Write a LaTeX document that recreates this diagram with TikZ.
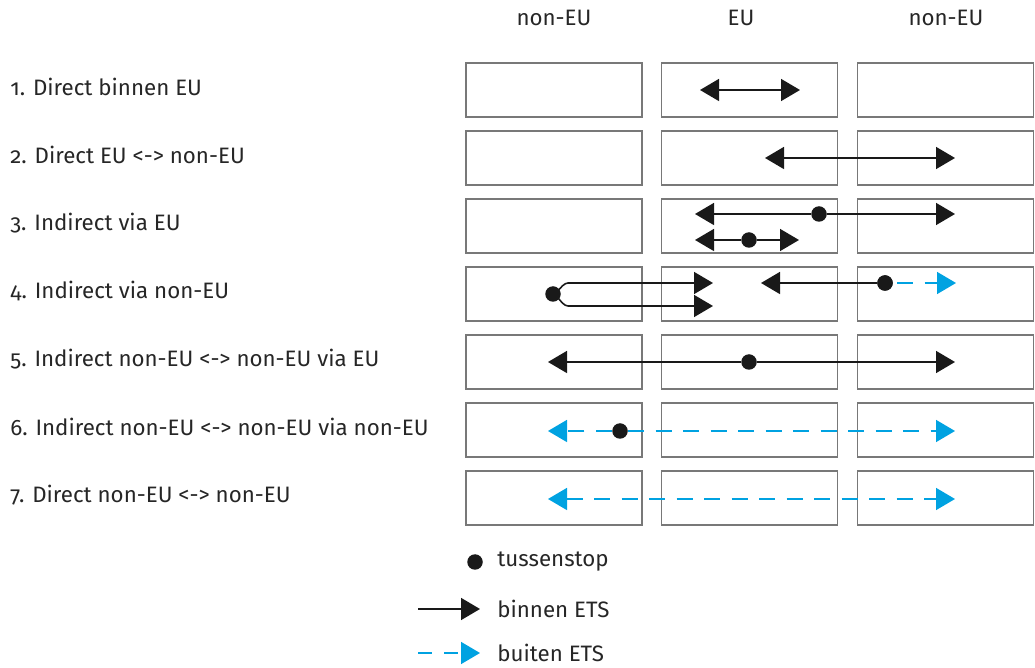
\documentclass[tikz,border=0pt]{standalone}
\usepackage{fontspec}
\setmainfont{Fira Sans}[Numbers=OldStyle]
\usepackage{tikz}
\usetikzlibrary{positioning}
\usetikzlibrary{arrows.meta}
\definecolor{etsblue}{RGB}{0,162,225}
\definecolor{cellgray}{RGB}{120,120,120}

\begin{document}
\begin{tikzpicture}[x=0.02cm,y=-0.02cm,>={Triangle[length=0.38cm,width=0.44cm]},font=\fontsize{12.7}{15}\selectfont,
	cell/.style={draw=cellgray,line width=0.75pt,minimum width=3.52cm,minimum height=1.08cm,inner sep=0pt},
	stop/.style={circle,fill=black!90,inner sep=0pt,minimum size=0.31cm},
	binnen/.style={line width=0.9pt,black!90},
	buiten/.style={line width=0.9pt,etsblue,dash pattern=on 0.32cm off 0.23cm},
	rowlabel/.style={anchor=west,inner sep=0pt,text=black!85}]

	\useasboundingbox (0,0) rectangle (1035,668);

	% kolommen
	\node[text=black!85] (h1) at (554,18) {non-EU};
	\node[text=black!85] (h2) at (741,18) {EU};
	\node[text=black!85] (h3) at (946,18) {non-EU};

	% vakken en rijen
	\foreach \r in {1,...,7}{
		\node[cell] (b\r1) at (554,22+68*\r) {};
		\node[cell] (b\r2) at (749.5,22+68*\r) {};
		\node[cell] (b\r3) at (945.5,22+68*\r) {};
	}
	\foreach \r/\txt in {1/Direct binnen EU,2/Direct EU <-> non-EU,3/Indirect via EU,4/Indirect via non-EU,5/Indirect non-EU <-> non-EU via EU,6/Indirect non-EU <-> non-EU via non-EU,7/Direct non-EU <-> non-EU}
		\node[rowlabel] (l\r) at (10,19+68*\r) {\r. \txt};

	% 1.
	\coordinate (t1l) at (700,90);
	\coordinate (t1r) at (800,90);
	\draw[binnen,<->] (t1l) -- (t1r);

	% 2.
	\coordinate (t2l) at (765,158);
	\coordinate (t2r) at (955,158);
	\draw[binnen,<->] (t2l) -- (t2r);

	% 3.
	\coordinate (t3l) at (695,214);
	\coordinate (t3r) at (955,214);
	\node[stop] (s3a) at (819,214) {};
	\draw[binnen,->] (s3a) -- (t3l);
	\draw[binnen,->] (s3a) -- (t3r);
	\coordinate (t3bl) at (695,240);
	\coordinate (t3br) at (799,240);
	\node[stop] (s3b) at (749,240) {};
	\draw[binnen,->] (s3b) -- (t3bl);
	\draw[binnen,->] (s3b) -- (t3br);

	% 4.
	\node[stop] (s4a) at (553,294) {};
	\coordinate (k4u) at (568,283);
	\coordinate (k4d) at (568,306);
	\coordinate (t4u) at (713,283);
	\coordinate (t4d) at (713,306);
	\draw[binnen,->] (s4a.center) to[out=-90,in=180] (k4u) -- (t4u);
	\draw[binnen,->] (s4a.center) to[out=90,in=180] (k4d) -- (t4d);
	\node[stop] (s4b) at (885,283) {};
	\coordinate (t4l) at (761,283);
	\coordinate (t4r) at (956,283);
	\draw[binnen,->] (s4b) -- (t4l);
	\draw[buiten,->,dash phase=-0.08cm] (s4b) -- (t4r);
	\node[stop] at (s4b) {};

	% 5.
	\node[stop] (s5) at (749,362) {};
	\coordinate (t5l) at (548,362);
	\coordinate (t5r) at (955,362);
	\draw[binnen,->] (s5) -- (t5l);
	\draw[binnen,->] (s5) -- (t5r);

	% 6.
	\node[stop] (s6) at (620,431) {};
	\coordinate (t6l) at (548,431);
	\coordinate (t6r) at (955,431);
	\draw[buiten,->] (s6) -- (t6l);
	\draw[buiten,->] (s6) -- (t6r);

	% 7.
	\coordinate (t7l) at (548,499);
	\coordinate (t7r) at (955,499);
	\draw[buiten,<->] (t7l) -- (t7r);

	% legenda
	\node[stop] (lstop) at (475,562) {};
	\node[rowlabel] (ltxt1) at (497,562) {tussenstop};
	\coordinate (lb1) at (418,609);
	\coordinate (lb2) at (480,609);
	\draw[binnen,->] (lb1) -- (lb2);
	\node[rowlabel] (ltxt2) at (497,609) {binnen ETS};
	\coordinate (lu1) at (418,653);
	\coordinate (lu2) at (480,653);
	\draw[buiten,->,dash pattern=on 0.28cm off 0.25cm] (lu1) -- (lu2);
	\node[rowlabel] (ltxt3) at (497,653) {buiten ETS};
\end{tikzpicture}
\end{document}
